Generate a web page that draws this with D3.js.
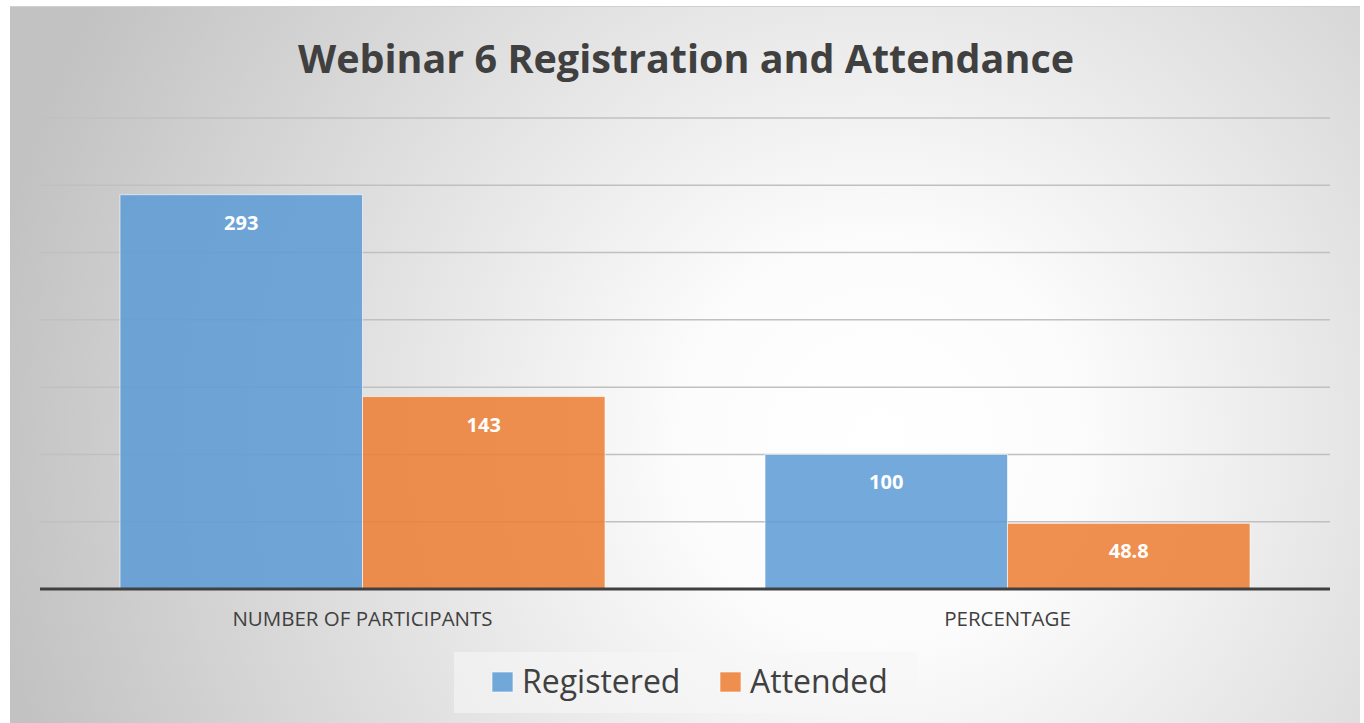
<!DOCTYPE html>
<html>
<head>
<meta charset="utf-8">
<script src="https://cdn.jsdelivr.net/npm/d3@7"></script>
<style>
  body { margin: 0; background: #fff; }
  svg { display: block; }
</style>
</head>
<body>
<svg id="chart" width="1364" height="723"></svg>
<script>
// Data
var categories = ['NUMBER OF PARTICIPANTS', 'PERCENTAGE']
var seriesNames = ['Registered', 'Attended']
var registered = [293, 100]
var attended = [143, 48.8]
var labels = [['293', '143'], ['100', '48.8']]
var colors = ['#5b9bd5', '#ed7d31']
var yTicks = [0, 50, 100, 150, 200, 250, 300, 350]

var svg = d3.select('#chart')

// background gradient
var defs = svg.append('defs')
var grad = defs.append('radialGradient')
  .attr('id', 'bg')
  .attr('gradientUnits', 'userSpaceOnUse')
  .attr('cx', 880).attr('cy', 440).attr('r', 900)
grad.append('stop').attr('offset', '0%').attr('stop-color', '#ffffff')
grad.append('stop').attr('offset', '22%').attr('stop-color', '#fcfcfc')
grad.append('stop').attr('offset', '100%').attr('stop-color', '#c2c2c2')

svg.append('rect')
  .attr('x', 10).attr('y', 6).attr('width', 1350).attr('height', 717)
  .attr('fill', 'url(#bg)')
svg.append('line')
  .attr('x1', 10).attr('x2', 1360).attr('y1', 6.5).attr('y2', 6.5)
  .attr('stroke', '#d0d0d0')

// scales
var x0 = d3.scaleBand().domain(categories).range([40, 1330])
var x1 = d3.scaleBand().domain(seriesNames).range([80, x0.bandwidth() - 80])
var y = d3.scaleLinear().domain([0, 350]).range([589, 118])

// title
svg.append('text')
  .attr('x', 686).attr('y', 73)
  .attr('text-anchor', 'middle')
  .attr('font-family', 'Open Sans, sans-serif')
  .attr('font-weight', 'bold')
  .attr('font-size', 39.5)
  .attr('fill', '#404040')
  .text('Webinar 6 Registration and Attendance')

// gridlines
svg.append('g')
  .selectAll('line')
  .data(yTicks.slice(1))
  .enter()
  .append('line')
  .attr('x1', 40).attr('x2', 1330)
  .attr('y1', d => y(d)).attr('y2', d => y(d))
  .attr('stroke', '#c0c0c0')
  .attr('stroke-width', 1.5)

// bars
var values = [registered, attended]
var groups = svg.append('g')
  .selectAll('g')
  .data(categories)
  .enter()
  .append('g')
  .attr('transform', d => 'translate(' + x0(d) + ',0)')

var barData = (d, i) => seriesNames.map((s, j) => ({ s: s, v: values[j][i], j: j, label: labels[i][j] }))

groups.selectAll('rect')
  .data(barData)
  .enter()
  .append('rect')
  .attr('x', d => x1(d.s))
  .attr('width', x1.bandwidth())
  .attr('y', d => y(d.v))
  .attr('height', d => y(0) - y(d.v))
  .attr('fill', d => colors[d.j])
  .attr('fill-opacity', 0.85)
  .attr('stroke', '#ffffff')
  .attr('stroke-opacity', 0.6)
  .attr('stroke-width', 1)

groups.selectAll('text')
  .data(barData)
  .enter()
  .append('text')
  .attr('x', d => x1(d.s) + x1.bandwidth() / 2)
  .attr('y', d => y(d.v) + 35)
  .attr('text-anchor', 'middle')
  .attr('font-family', 'Open Sans, sans-serif')
  .attr('font-weight', 'bold')
  .attr('font-size', 20)
  .attr('fill', '#ffffff')
  .text(d => d.label)

// baseline axis
svg.append('line')
  .attr('x1', 40).attr('x2', 1330)
  .attr('y1', y(0)).attr('y2', y(0))
  .attr('stroke', '#404040')
  .attr('stroke-width', 3)

// category labels
svg.append('g')
  .selectAll('text')
  .data(categories)
  .enter()
  .append('text')
  .attr('x', d => x0(d) + x0.bandwidth() / 2)
  .attr('y', 626)
  .attr('text-anchor', 'middle')
  .attr('font-family', 'Open Sans, sans-serif')
  .attr('font-size', 20.5)
  .attr('fill', '#404040')
  .text(d => d)

// legend
svg.append('rect')
  .attr('x', 454).attr('y', 652).attr('width', 463).attr('height', 61)
  .attr('fill', '#f6f6f6').attr('fill-opacity', 0.6)

var legendX = [492, 720]
var leg = svg.append('g')
  .selectAll('g')
  .data(seriesNames)
  .enter()
  .append('g')
  .attr('transform', (d, i) => 'translate(' + legendX[i] + ',672)')
leg.append('rect')
  .attr('width', 21).attr('height', 20)
  .attr('fill', (d, i) => colors[i])
  .attr('fill-opacity', 0.85)
  .attr('stroke', '#fff').attr('stroke-opacity', 0.6)
leg.append('text')
  .attr('x', 30).attr('y', 21)
  .attr('font-family', 'Open Sans, sans-serif')
  .attr('font-size', 32)
  .attr('fill', '#404040')
  .text(d => d)
</script>
</body>
</html>
